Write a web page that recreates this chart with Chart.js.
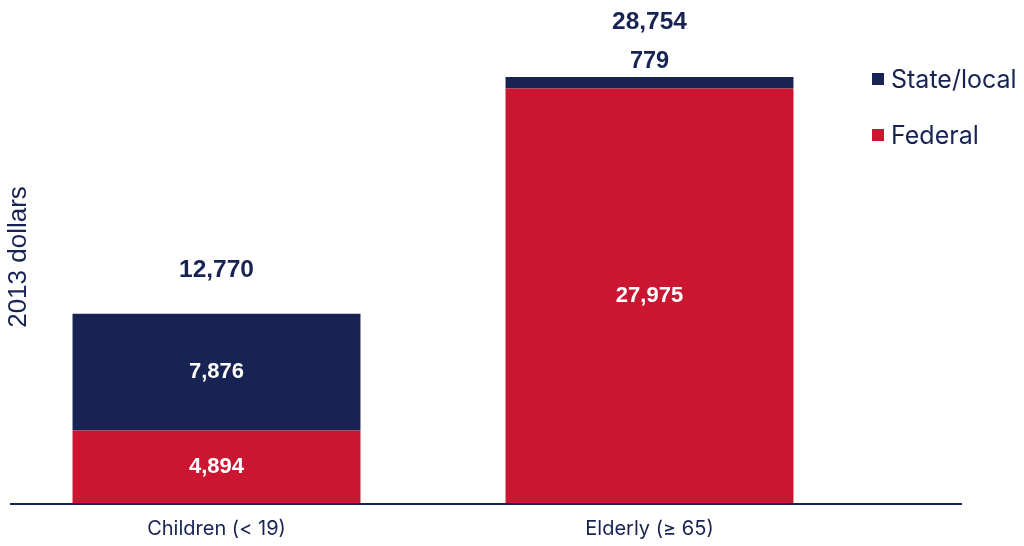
<!DOCTYPE html>
<html>
<head>
<meta charset="utf-8">
<script src="https://cdn.jsdelivr.net/npm/chart.js@4.4.1/dist/chart.umd.min.js"></script>
<style>
  html, body { margin: 0; padding: 0; background: #fff; }
  #wrap { width: 1024px; height: 546px; position: relative; }
</style>
</head>
<body>
<div id="wrap"><canvas id="spendChart"></canvas></div>
<script>
const categories = ['Children (< 19)', 'Elderly (\u2265 65)'];
const federal = [4894, 27975];
const stateLocal = [7876, 779];
const totals = [12770, 28754];

const navy = '#172353';
const red = '#cb1632';

function fmt(v) { return v.toLocaleString('en-US'); }

const boldFont = size => 'bold ' + size + 'px "Liberation Sans", Arial, sans-serif';

// value labels, y title, legend and base line
const decorPlugin = {
  id: 'decor',
  afterDatasetsDraw(chart) {
    const ctx = chart.ctx;
    const area = chart.chartArea;
    const fedMeta = chart.getDatasetMeta(1);
    const slMeta = chart.getDatasetMeta(0);

    ctx.save();
    ctx.textAlign = 'center';
    ctx.textBaseline = 'middle';

    fedMeta.data.forEach((bar, i) => {
      ctx.font = boldFont(22);
      ctx.fillStyle = '#fff';
      ctx.fillText(fmt(federal[i]), bar.x, (bar.y + bar.base) / 2);
    });
    slMeta.data.forEach((bar, i) => {
      const h = bar.base - bar.y;
      if (h > 40) {
        ctx.font = boldFont(22);
        ctx.fillStyle = '#fff';
        ctx.fillText(fmt(stateLocal[i]), bar.x, (bar.y + bar.base) / 2);
        ctx.fillStyle = navy;
        ctx.font = boldFont(24.5);
        ctx.fillText(fmt(totals[i]), bar.x, bar.y - 44);
      } else {
        ctx.fillStyle = navy;
        ctx.font = boldFont(23.5);
        ctx.fillText(fmt(stateLocal[i]), bar.x, bar.y - 15);
        ctx.font = boldFont(24.5);
        ctx.fillText(fmt(totals[i]), bar.x, bar.y - 55);
      }
    });

    // base line
    ctx.strokeStyle = navy;
    ctx.lineWidth = 2;
    ctx.beginPath();
    ctx.moveTo(10, area.bottom + 1);
    ctx.lineTo(962, area.bottom + 1);
    ctx.stroke();

    // y title
    ctx.save();
    ctx.translate(19, 257);
    ctx.rotate(-Math.PI / 2);
    ctx.fillStyle = navy;
    ctx.font = '26px "Liberation Sans", Arial, sans-serif';
    ctx.fillText('2013 dollars', 0, 0);
    ctx.restore();

    // legend
    ctx.textAlign = 'left';
    ctx.font = '25px Inter, sans-serif';
    [[0, 79], [1, 135]].forEach(([d, y]) => {
      const ds = chart.data.datasets[d];
      ctx.fillStyle = ds.backgroundColor;
      ctx.fillRect(872, y - 6, 12, 12);
      ctx.fillStyle = navy;
      ctx.fillText(ds.label, 891, y + 1);
    });
    ctx.restore();
  }
};

new Chart(document.getElementById('spendChart'), {
  type: 'bar',
  data: {
    labels: categories,
    datasets: [
      { label: 'State/local', data: stateLocal, backgroundColor: navy, stack: 's', order: 1 },
      { label: 'Federal', data: federal, backgroundColor: red, stack: 's', order: 0 }
    ]
  },
  options: {
    responsive: true,
    maintainAspectRatio: false,
    animation: false,
    layout: { padding: { left: 0, right: 158, top: 0, bottom: -1 } },
    datasets: { bar: { categoryPercentage: 1, barPercentage: 0.665 } },
    plugins: {
      legend: { display: false },
      tooltip: { enabled: false }
    },
    scales: {
      x: {
        stacked: true,
        grid: { display: false },
        border: { display: false },
        ticks: { color: navy, font: { family: 'Inter', size: 20 }, padding: 6 }
      },
      y: {
        stacked: true,
        display: false,
        min: 0,
        max: 33950
      }
    }
  },
  plugins: [decorPlugin]
});
</script>
</body>
</html>
